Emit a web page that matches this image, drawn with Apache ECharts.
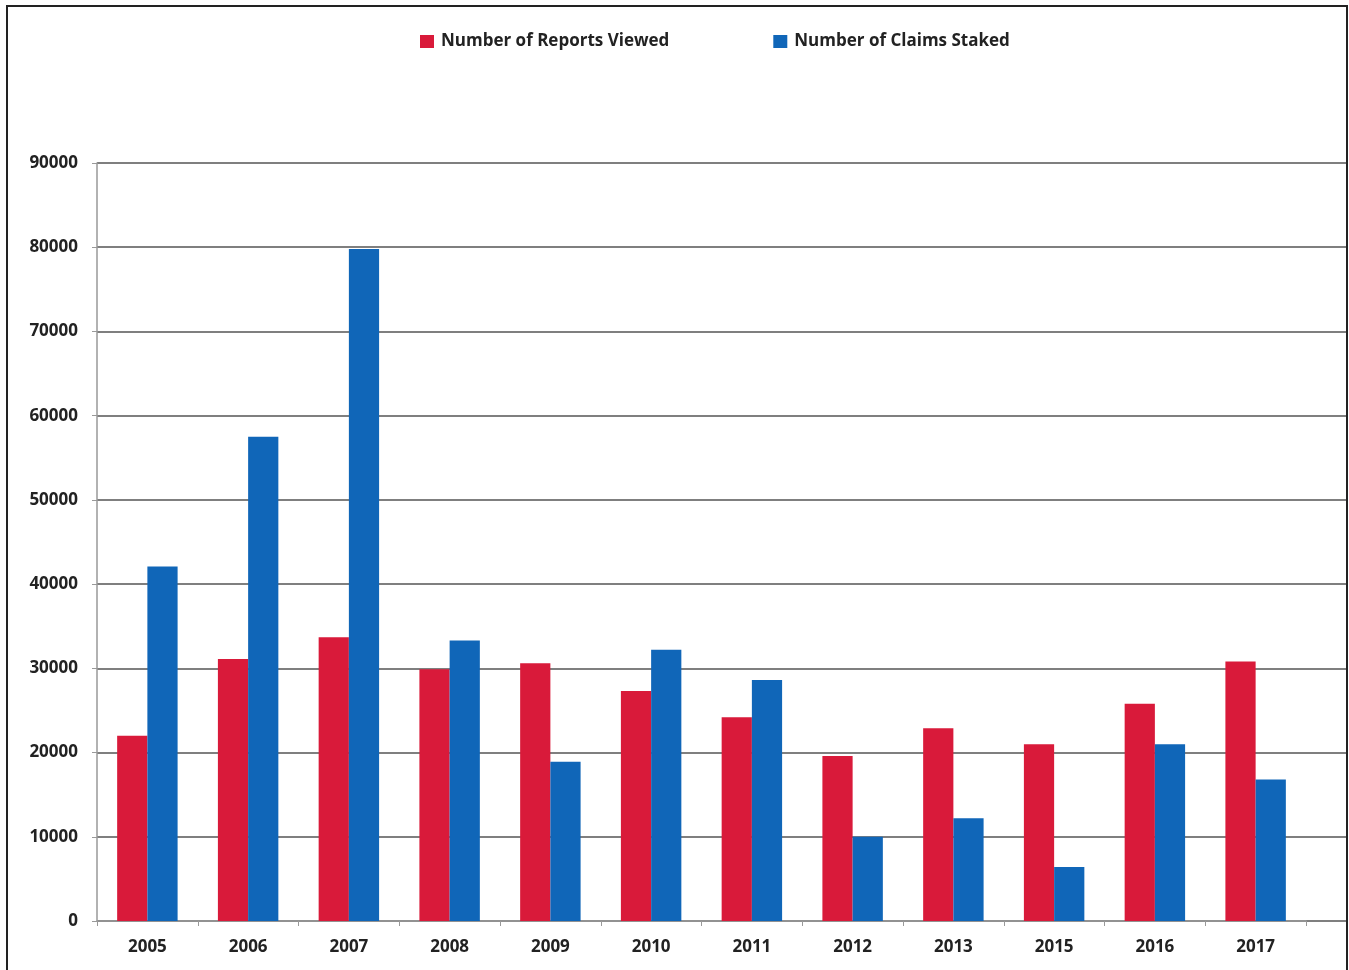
<!DOCTYPE html>
<html>
<head>
<meta charset="utf-8">
<script src="https://cdn.jsdelivr.net/npm/echarts@6/dist/echarts.min.js"></script>
<style>
  html, body { margin: 0; padding: 0; background: #fff; }
  #chart { position: absolute; left: 0; top: 0; width: 1349px; height: 970px; }
  #frame { position: absolute; left: 6px; top: 5px; width: 1342px; height: 975px; box-sizing: border-box; border: 2px solid #222; pointer-events: none; }
</style>
</head>
<body>
<div id="chart"></div>
<div id="frame"></div>
<script>
const years = ['2005','2006','2007','2008','2009','2010','2011','2012','2013','2015','2016','2017'];
const reportsViewed = [22000, 31100, 33700, 29900, 30600, 27300, 24200, 19600, 22900, 21000, 25800, 30800];
const claimsStaked = [42100, 57500, 79800, 33300, 18900, 32200, 28600, 10000, 12200, 6400, 21000, 16800];
const yTicks = { min: 0, max: 90000, interval: 10000 };

const chart = echarts.init(document.getElementById('chart'), null, { renderer: 'canvas' });
const fontFam = "'Open Sans', 'Noto Sans', sans-serif";
chart.setOption({
  backgroundColor: '#ffffff',
  animation: false,
  legend: {
    left: 420, top: 33, padding: 0,
    itemWidth: 14, itemHeight: 13, itemGap: 104,
    icon: 'rect',
    textStyle: { fontFamily: fontFam, fontSize: 17, fontWeight: 'bold', color: '#222', padding: [0,0,0,2] },
    data: ['Number of Reports Viewed', 'Number of Claims Staked']
  },
  grid: [
    { left: 97, right: 43, top: 163, bottom: 49 },
    { left: 97, right: 2, top: 163, bottom: 49 }
  ],
  xAxis: [
    {
      type: 'category', gridIndex: 0, data: years,
      axisLine: { lineStyle: { color: '#999', width: 1.5 } },
      axisTick: { show: true, length: 5, lineStyle: { color: '#999' } },
      axisLabel: { fontFamily: fontFam, fontSize: 17, fontWeight: 'bold', color: '#222', margin: 18 }
    },
    { type: 'value', gridIndex: 1, show: false, min: 0, max: 1 }
  ],
  yAxis: [
    {
      type: 'value', gridIndex: 0, min: yTicks.min, max: yTicks.max, interval: yTicks.interval,
      axisLine: { show: true, lineStyle: { color: '#999', width: 1.5 } },
      axisTick: { show: true, length: 5, lineStyle: { color: '#999' } },
      axisLabel: { fontFamily: fontFam, fontSize: 17, fontWeight: 'bold', color: '#222', margin: 19,
                   formatter: v => String(v) },
      splitLine: { show: false }
    },
    {
      type: 'value', gridIndex: 1, min: yTicks.min, max: yTicks.max, interval: yTicks.interval,
      axisLine: { show: false }, axisTick: { show: false }, axisLabel: { show: false },
      splitLine: { show: true, lineStyle: { color: '#7f7f7f', width: 2 } }
    }
  ],
  series: [
    {
      name: 'Number of Reports Viewed', type: 'bar', xAxisIndex: 0, yAxisIndex: 0,
      data: reportsViewed, barGap: '0%', barCategoryGap: '40%',
      itemStyle: { color: '#d91a3a' }, z: 3
    },
    {
      name: 'Number of Claims Staked', type: 'bar', xAxisIndex: 0, yAxisIndex: 0,
      data: claimsStaked, barGap: '0%', barCategoryGap: '40%',
      itemStyle: { color: '#1066b8' }, z: 3
    }
  ]
});
</script>
</body>
</html>
